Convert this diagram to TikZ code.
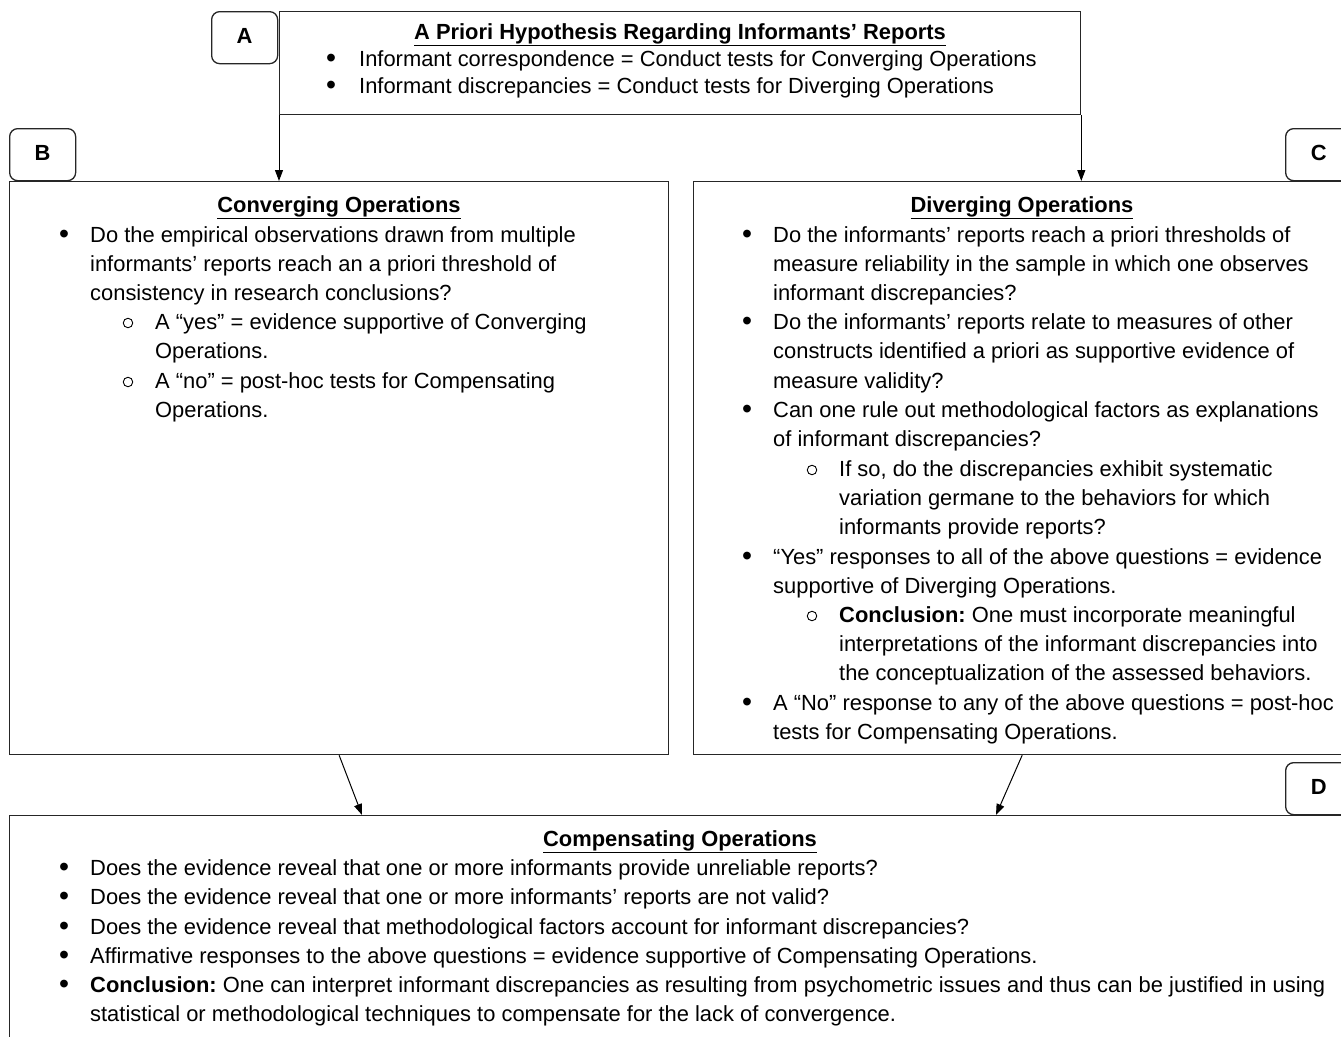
\documentclass[tikz,border=0pt]{standalone}
\usepackage{fontspec}
\setmainfont{Liberation Sans}
\usetikzlibrary{arrows.meta,calc}
\frenchspacing
\newcommand\tline[4]{\node[txt] (#1) at (#2,#3) {#4};}
\newcommand\bul[3]{\node[dotb] (#1) at (#2,#3) {\raisebox{-1.2pt}{\scalebox{1.3}{\textbullet}}};}
\newcommand\cir[3]{\node[cirb] (#1) at (#2,#3-6) {};}
\newcommand\lbltext[1]{\raisebox{3pt}{#1}}
\begin{document}
\begin{tikzpicture}[x=1pt,y=-1pt,
  every node/.style={font=\fontsize{21.9pt}{29pt}\selectfont},
  box/.style={draw=black!85,line width=1.3pt,inner sep=0pt,anchor=north west},
  lbl/.style={draw=black!85,line width=1.3pt,rounded corners=8pt,inner sep=0pt,
    anchor=north west,minimum width=66pt,minimum height=52pt,
    font=\fontsize{21.9pt}{29pt}\selectfont\bfseries},
  txt/.style={anchor=base west,inner sep=0pt},
  dotb/.style={anchor=base,inner sep=0pt},
  cirb/.style={circle,draw=black,line width=0.9pt,inner sep=0pt,minimum size=9.5pt},
  hd/.style={anchor=base,inner sep=0pt,font=\fontsize{21.9pt}{29pt}\selectfont\bfseries},
  arr/.style={-{Triangle[length=11pt,width=8pt]},line width=1pt,draw=black}]
\useasboundingbox (0,0) rectangle (1341,1036);
\clip (0,0) rectangle (1341,1036);
\fill[white] (0,0) rectangle (1341,1036);

% boxes
\node[box,minimum width=801pt,minimum height=103pt] (A) at (279,11) {};
\node[box,minimum width=659pt,minimum height=573pt] (B) at (9,181) {};
\node[box,minimum width=657pt,minimum height=573pt] (C) at (693,181) {};
\node[box,minimum width=1341pt,minimum height=240pt] (D) at (9,815) {};

% labels
\node[lbl] (LA) at (211,11) {\lbltext{A}};
\node[lbl] (LB) at (9,128) {\lbltext{B}};
\node[lbl] (LC) at (1285,128) {\lbltext{C}};
\node[lbl] (LD) at (1285,762) {\lbltext{D}};

% arrows
\coordinate (dB) at (362,815);
\coordinate (dC) at (996,815);
\draw[arr] (A.south west) -- (A.south west |- B.north);
\draw[arr] (A.south east) -- (A.south east |- C.north);
\draw[arr] (B.south) -- (dB);
\draw[arr] (C.south) -- (dC);

% box A text
\node[hd] (hA) at (680,39) {\underline{A Priori Hypothesis Regarding Informants’ Reports}};
\bul{a1b}{331}{66}\tline{a1}{359}{66}{Informant correspondence = Conduct tests for Converging Operations}
\bul{a2b}{331}{93}\tline{a2}{359}{93}{Informant discrepancies = Conduct tests for Diverging Operations}

% box B text
\node[hd] (hB) at (339,212) {\underline{Converging Operations}};
\bul{b1b}{64}{242}\tline{b1}{90}{242}{Do the empirical observations drawn from multiple}
\tline{b2}{90}{271}{informants’ reports reach an a priori threshold of}
\tline{b3}{90}{300}{consistency in research conclusions?}
\cir{b4c}{128}{329}\tline{b4}{155}{329}{A “yes” = evidence supportive of Converging}
\tline{b5}{155}{358}{Operations.}
\cir{b6c}{128}{388}\tline{b6}{155}{388}{A “no” = post-hoc tests for Compensating}
\tline{b7}{155}{417}{Operations.}

% box C text
\node[hd] (hC) at (1022,212) {\underline{Diverging Operations}};
\bul{c1b}{747}{242}\tline{c1}{773}{242}{Do the informants’ reports reach a priori thresholds of}
\tline{c2}{773}{271}{measure reliability in the sample in which one observes}
\tline{c3}{773}{300}{informant discrepancies?}
\bul{c4b}{747}{329}\tline{c4}{773}{329}{Do the informants’ reports relate to measures of other}
\tline{c5}{773}{358}{constructs identified a priori as supportive evidence of}
\tline{c6}{773}{388}{measure validity?}
\bul{c7b}{747}{417}\tline{c7}{773}{417}{Can one rule out methodological factors as explanations}
\tline{c8}{773}{446}{of informant discrepancies?}
\cir{c9c}{812}{476}\tline{c9}{839}{476}{If so, do the discrepancies exhibit systematic}
\tline{c10}{839}{505}{variation germane to the behaviors for which}
\tline{c11}{839}{534}{informants provide reports?}
\bul{c12b}{747}{564}\tline{c12}{773}{564}{“Yes” responses to all of the above questions = evidence}
\tline{c13}{773}{593}{supportive of Diverging Operations.}
\cir{c14c}{812}{622}\tline{c14}{839}{622}{\textbf{Conclusion:} One must incorporate meaningful}
\tline{c15}{839}{651}{interpretations of the informant discrepancies into}
\tline{c16}{839}{680}{the conceptualization of the assessed behaviors.}
\bul{c17b}{747}{710}\tline{c17}{773}{710}{A “No” response to any of the above questions = post-hoc}
\tline{c18}{773}{739}{tests for Compensating Operations.}

% box D text
\node[hd] (hD) at (680,846) {\underline{Compensating Operations}};
\bul{d1b}{64}{875}\tline{d1}{90}{875}{Does the evidence reveal that one or more informants provide unreliable reports?}
\bul{d2b}{64}{904}\tline{d2}{90}{904}{Does the evidence reveal that one or more informants’ reports are not valid?}
\bul{d3b}{64}{934}\tline{d3}{90}{934}{Does the evidence reveal that methodological factors account for informant discrepancies?}
\bul{d4b}{64}{963}\tline{d4}{90}{963}{Affirmative responses to the above questions = evidence supportive of Compensating Operations.}
\bul{d5b}{64}{992}\tline{d5}{90}{992}{\makebox[1235pt][s]{\textbf{Conclusion:} One can interpret informant discrepancies as resulting from psychometric issues and thus can be justified in using}}
\tline{d6}{90}{1021}{statistical or methodological techniques to compensate for the lack of convergence.}
\end{tikzpicture}
\end{document}
